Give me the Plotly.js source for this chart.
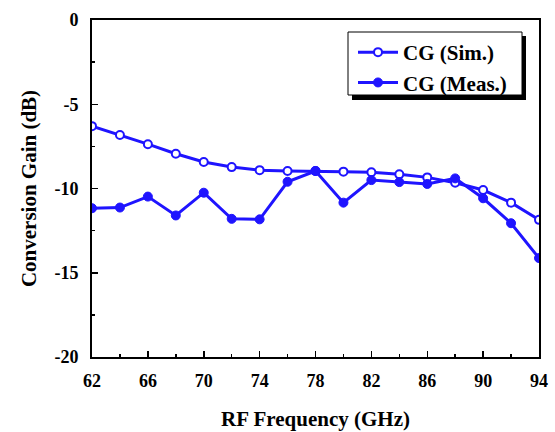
<!DOCTYPE html>
<html><head><meta charset="utf-8">
<script src="https://cdn.plot.ly/plotly-3.0.1.min.js"></script>
<style>body{margin:0;background:#fff}#c{width:555px;height:432px}</style>
</head><body><div id="c"></div>
<script>
const freq = [62,64,66,68,70,72,74,76,78,80,82,84,86,88,90,92,94];
const cgSim = [-6.30,-6.82,-7.37,-7.94,-8.43,-8.73,-8.91,-8.96,-8.96,-9.00,-9.04,-9.16,-9.34,-9.66,-10.09,-10.84,-11.86];
const cgMeas = [-11.17,-11.13,-10.48,-11.60,-10.25,-11.80,-11.83,-9.60,-8.96,-10.84,-9.50,-9.62,-9.73,-9.40,-10.58,-12.06,-14.13];
const xTicks = [62,66,70,74,78,82,86,90,94];
const yTicks = [0,-5,-10,-15,-20];
const yTickText = ['0','-5','-10','-15','-20'];
const blue = '#1f14ff';
const font = {family:'Times New Roman, Liberation Serif, DejaVu Serif, serif', color:'#000', weight:'bold'};
const traces = [
  {x:freq, y:cgSim, name:'CG (Sim.)', mode:'lines+markers', cliponaxis:true,
   line:{color:blue,width:3}, marker:{symbol:'circle',size:8,color:'#fff',line:{color:blue,width:2}}},
  {x:freq, y:cgMeas, name:'CG (Meas.)', mode:'lines+markers', cliponaxis:true,
   line:{color:blue,width:3}, marker:{symbol:'circle',size:9,color:blue,line:{color:blue,width:1}}}
];
const L = 92, W = 447, B = 357, H = 337;
const px = v => (v-L)/W, py = v => (B-v)/H;
const layout = {
  width:555, height:432,
  margin:{l:92,r:16,t:20,b:75},
  paper_bgcolor:'#fff', plot_bgcolor:'#fff',
  font:Object.assign({size:15},font),
  showlegend:true,
  legend:{x:px(353),xanchor:'left',y:py(32),yanchor:'top',bgcolor:'rgba(0,0,0,0)',borderwidth:0,
          font:Object.assign({size:21},font), tracegroupgap:0, itemwidth:40},
  xaxis:{range:[62,94], tickvals:xTicks,
         ticks:'inside', ticklen:6, tickwidth:1.5, tickcolor:'#000', ticklabelstandoff:6,
         minor:{dtick:2, ticks:'inside', ticklen:3, tickcolor:'#000'},
         showline:true, linecolor:'#000', linewidth:2, mirror:true, showgrid:false, zeroline:false,
         tickfont:Object.assign({size:18},font),
         title:{text:'RF Frequency (GHz)', font:Object.assign({size:21},font), standoff:22}},
  yaxis:{range:[-20,0], tickvals:yTicks, ticktext:yTickText,
         ticks:'inside', ticklen:6, tickwidth:1.5, tickcolor:'#000', ticklabelstandoff:8,
         minor:{dtick:2.5, ticks:'inside', ticklen:3, tickcolor:'#000'},
         showline:true, linecolor:'#000', linewidth:2, mirror:true, showgrid:false, zeroline:false,
         tickfont:Object.assign({size:18},font),
         title:{text:'Conversion Gain (dB)', font:Object.assign({size:21},font), standoff:12}},
  shapes:[
    {type:'rect', xref:'paper', yref:'paper', layer:'above',
     x0:px(352), x1:px(526), y0:py(100), y1:py(36), fillcolor:'#000', line:{width:0}},
    {type:'rect', xref:'paper', yref:'paper', layer:'above',
     x0:px(348), x1:px(522), y0:py(95), y1:py(32), fillcolor:'#fff', line:{color:'#000',width:1}}
  ]
};
Plotly.newPlot('c', traces, layout, {staticPlot:true});
</script></body></html>
